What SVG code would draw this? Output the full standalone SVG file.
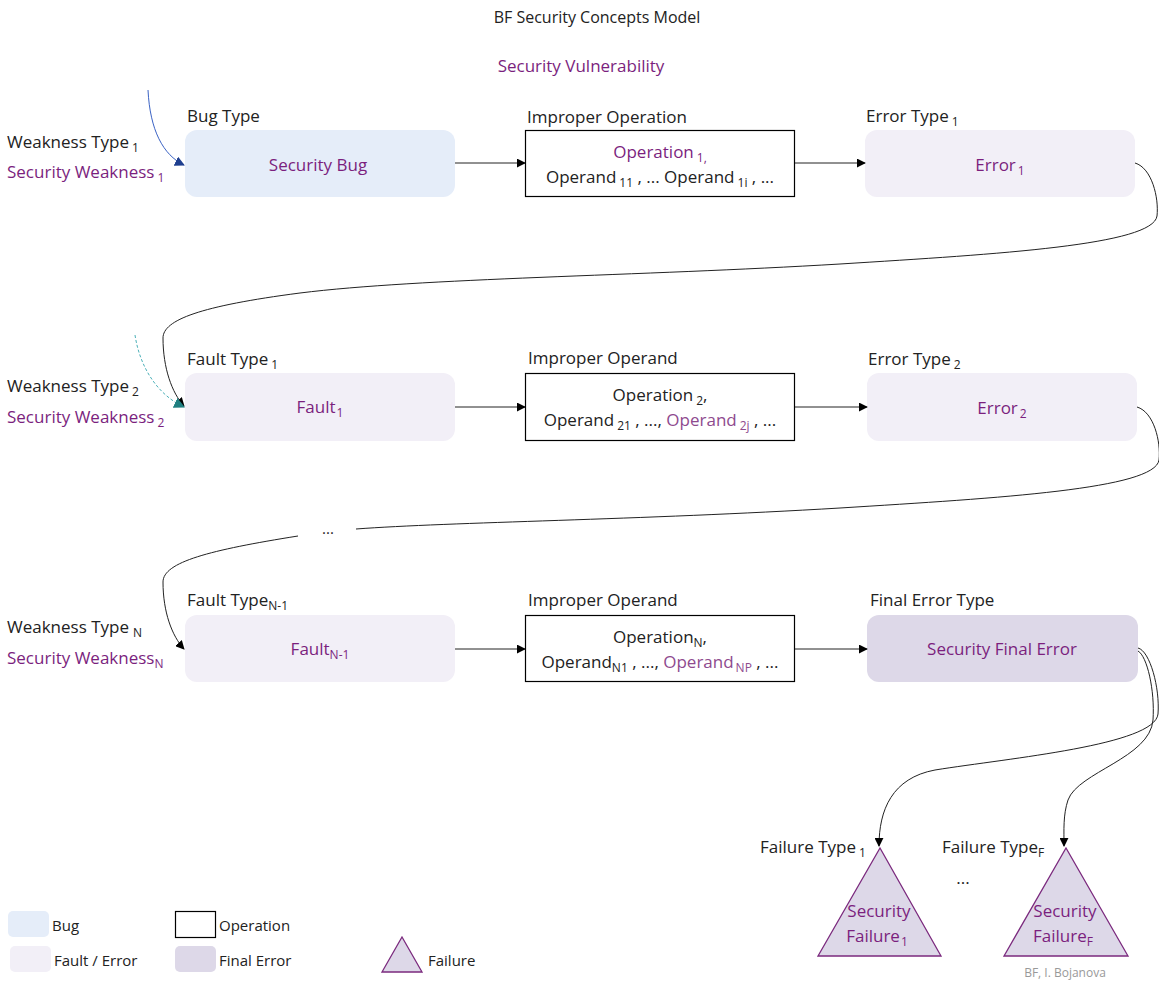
<svg xmlns="http://www.w3.org/2000/svg" width="1159" height="981" viewBox="0 0 1159 981">
  <style>
    text { font-family: "Open Sans", "Noto Sans", "DejaVu Sans", sans-serif; font-size: 17px; fill: #222; }
    .p { fill: #7b1f7e; }
    .pl { fill: #8e4a8e; }
    .c { text-anchor: middle; }
    .s { font-size: 12px; }
    .bug { fill: #e5edf9; }
    .fe { fill: #f2eff7; }
    .fin { fill: #ddd8e8; }
    .op { fill: #fff; stroke: #000; stroke-width: 1.2; }
    .tri { fill: #ddd8e8; stroke: #7b2a7e; stroke-width: 1.3; }
    .conn { fill: none; stroke: #222; stroke-width: 1; }
    .leg { font-size: 15px; }
  </style>
  <defs>
    <marker id="ah" viewBox="0 0 10 10" refX="9" refY="5" markerWidth="9" markerHeight="9" markerUnits="userSpaceOnUse" orient="auto">
      <path d="M0,0 L10,5 L0,10 Z" fill="#000"/>
    </marker>
    <marker id="ahBlue" viewBox="0 0 10 10" refX="9" refY="5" markerWidth="10" markerHeight="10" markerUnits="userSpaceOnUse" orient="auto">
      <path d="M0,0 L10,5 L0,10 Z" fill="#1f3f8f"/>
    </marker>
    <marker id="ahTeal" viewBox="0 0 10 10" refX="9" refY="5" markerWidth="11" markerHeight="11" markerUnits="userSpaceOnUse" orient="auto">
      <path d="M0,0 L10,5 L0,10 Z" fill="#1f7f80"/>
    </marker>
  </defs>

  <!-- headings -->
  <text x="597" y="23" class="c" style="font-size:16px">BF Security Concepts Model</text>
  <text x="581" y="72" class="c p">Security Vulnerability</text>

  <!-- weakness labels -->
  <g id="weakness1">
    <text x="7" y="148">Weakness Type<tspan class="s" dx="3" dy="4">1</tspan></text>
    <text x="7" y="178" class="p">Security Weakness<tspan class="s" dx="3" dy="4">1</tspan></text>
  </g>
  <g id="weakness2">
    <text x="7" y="392">Weakness Type<tspan class="s" dx="3" dy="4">2</tspan></text>
    <text x="7" y="423" class="p">Security Weakness<tspan class="s" dx="3" dy="4">2</tspan></text>
  </g>
  <g id="weaknessN">
    <text x="7" y="633">Weakness Type<tspan class="s" dx="4" dy="4">N</tspan></text>
    <text x="7" y="664" class="p">Security Weakness<tspan class="s" dy="4">N</tspan></text>
  </g>

  <!-- row 1 -->
  <g id="bug">
    <text x="187" y="122">Bug Type</text>
    <rect x="185" y="130" width="270" height="67" rx="12" class="bug"/>
    <text x="318" y="171" class="c p">Security Bug</text>
  </g>
  <g id="operation1">
    <text x="527" y="123">Improper Operation</text>
    <rect x="525.5" y="130.5" width="269" height="66" class="op"/>
    <text x="660" y="158" class="c p">Operation<tspan class="s" dx="3" dy="4">1,</tspan></text>
    <text x="660" y="183" class="c">Operand<tspan class="s" dx="3" dy="4">11</tspan><tspan dy="-4"> , ... Operand</tspan><tspan class="s" dx="3" dy="4">1i</tspan><tspan dy="-4"> , ...</tspan></text>
  </g>
  <g id="error1">
    <text x="866" y="122">Error Type<tspan class="s" dx="3" dy="4">1</tspan></text>
    <rect x="865" y="130" width="270" height="67" rx="12" class="fe"/>
    <text x="1000" y="171" class="c p">Error<tspan class="s" dx="2" dy="4">1</tspan></text>
  </g>

  <!-- row 2 -->
  <g id="fault1">
    <text x="187" y="365">Fault Type<tspan class="s" dx="3" dy="4">1</tspan></text>
    <rect x="185" y="373" width="270" height="68" rx="12" class="fe"/>
    <text x="320" y="413" class="c p">Fault<tspan class="s" dx="1" dy="4">1</tspan></text>
  </g>
  <g id="operand2">
    <text x="528" y="364">Improper Operand</text>
    <rect x="525.5" y="373.5" width="269" height="67" class="op"/>
    <text x="660" y="401" class="c">Operation<tspan class="s" dx="3" dy="4">2</tspan><tspan dy="-4">,</tspan></text>
    <text x="660" y="426" class="c">Operand<tspan class="s" dx="3" dy="4">21</tspan><tspan dy="-4"> , ..., </tspan><tspan class="pl">Operand</tspan><tspan class="s pl" dx="3" dy="4">2j</tspan><tspan dy="-4"> , ...</tspan></text>
  </g>
  <g id="error2">
    <text x="868" y="365">Error Type<tspan class="s" dx="3" dy="4">2</tspan></text>
    <rect x="867" y="373" width="270" height="68" rx="12" class="fe"/>
    <text x="1002" y="414" class="c p">Error<tspan class="s" dx="2" dy="4">2</tspan></text>
  </g>

  <!-- row N -->
  <g id="faultN">
    <text x="187" y="606">Fault Type<tspan class="s" dy="4">N-1</tspan></text>
    <rect x="185" y="615" width="270" height="67" rx="12" class="fe"/>
    <text x="320" y="655" class="c p">Fault<tspan class="s" dy="4">N-1</tspan></text>
  </g>
  <g id="operandN">
    <text x="528" y="606">Improper Operand</text>
    <rect x="525.5" y="615.5" width="269" height="66" class="op"/>
    <text x="660" y="643" class="c">Operation<tspan class="s" dy="4">N</tspan><tspan dy="-4">,</tspan></text>
    <text x="660" y="668" class="c">Operand<tspan class="s" dy="4">N1</tspan><tspan dy="-4"> , ..., </tspan><tspan class="pl">Operand</tspan><tspan class="s pl" dx="2" dy="4">NP</tspan><tspan dy="-4"> , ...</tspan></text>
  </g>
  <g id="finalError">
    <text x="870" y="606">Final Error Type</text>
    <rect x="867" y="615" width="271" height="67" rx="12" class="fin"/>
    <text x="1002" y="655" class="c p">Security Final Error</text>
  </g>

  <!-- failures -->
  <g id="failure1">
    <text x="760" y="853">Failure Type<tspan class="s" dx="3" dy="4">1</tspan></text>
    <polygon points="880,848 941,956 818,956" class="tri"/>
    <text x="879" y="917" class="c p">Security</text>
    <text x="877" y="942" class="c p">Failure<tspan class="s" dx="1" dy="4">1</tspan></text>
  </g>
  <g id="failureF">
    <text x="942" y="853">Failure Type<tspan class="s" dy="4">F</tspan></text>
    <polygon points="1066,848 1128,956 1004,956" class="tri"/>
    <text x="1065" y="917" class="c p">Security</text>
    <text x="1063" y="942" class="c p">Failure<tspan class="s" dy="4">F</tspan></text>
  </g>
  <text x="963" y="884" class="c">...</text>
  <text x="328" y="534" class="c" style="font-size:15px">...</text>

  <!-- connectors -->
  <g id="connectors">
    <path d="M455,163 L525,163" class="conn" marker-end="url(#ah)"/>
    <path d="M795,163 L865,163" class="conn" marker-end="url(#ah)"/>
    <path d="M455,407 L525,407" class="conn" marker-end="url(#ah)"/>
    <path d="M795,407 L867,407" class="conn" marker-end="url(#ah)"/>
    <path d="M455,649 L525,649" class="conn" marker-end="url(#ah)"/>
    <path d="M795,649 L867,649" class="conn" marker-end="url(#ah)"/>
    <path d="M1135,163 C1152,168 1159,198 1157,216 C1153,245 1000,254 840,264 C640,276 420,278 300,293 C200,306 163,320 163,338 C163,368 172,393 184,406" class="conn" marker-end="url(#ah)"/>
    <path d="M1137,407 C1154,412 1161,442 1159,460 C1155,489 1000,498 840,508 C640,520 450,522 356,529" class="conn"/>
    <path d="M298,536 C210,550 163,562 163,582 C163,612 172,636 184,649" class="conn" marker-end="url(#ah)"/>
    <path d="M1138,648 C1150,651 1160,688 1158,714 C1155,745 1010,758 935,770 C892,778 879,810 879,846" class="conn" marker-end="url(#ah)"/>
    <path d="M1138,651 C1147,656 1155,690 1153,720 C1150,758 1078,772 1068,800 C1063,815 1064,830 1064,846" class="conn" marker-end="url(#ah)"/>
    <path d="M148,90 C150,130 163,155 184,165" fill="none" stroke="#3a62c4" stroke-width="1" marker-end="url(#ahBlue)"/>
    <path d="M135,335 C140,368 158,395 184,407" fill="none" stroke="#4bb0b8" stroke-width="1" stroke-dasharray="3,2" marker-end="url(#ahTeal)"/>
  </g>

  <!-- legend -->
  <g id="legend">
    <rect x="8" y="911" width="41" height="26" rx="5" class="bug"/>
    <text x="52" y="931" class="leg">Bug</text>
    <rect x="175.5" y="911.5" width="40" height="26" class="op"/>
    <text x="219" y="931" class="leg">Operation</text>
    <rect x="10" y="946" width="41" height="26" rx="5" class="fe"/>
    <text x="54" y="966" class="leg">Fault / Error</text>
    <rect x="175" y="946" width="41" height="26" rx="5" class="fin"/>
    <text x="219" y="966" class="leg">Final Error</text>
    <polygon points="402,937 422,972 382,972" class="tri"/>
    <text x="428" y="966" class="leg">Failure</text>
  </g>

  <text x="1065" y="977" class="c" style="font-size:12px;fill:#999">BF, I. Bojanova</text>
</svg>
